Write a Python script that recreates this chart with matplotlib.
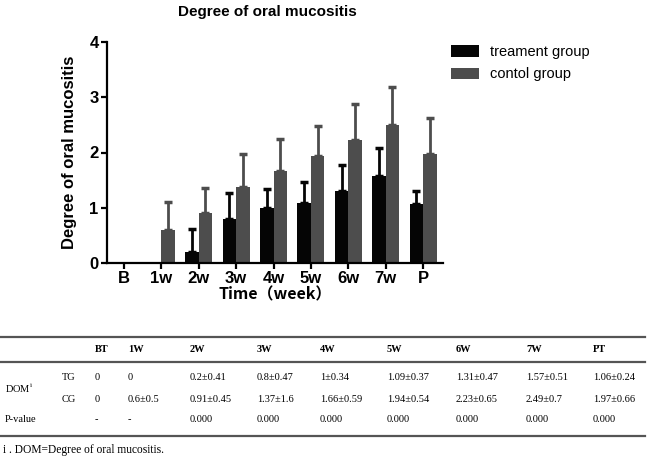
import matplotlib
matplotlib.use("Agg")
import matplotlib.pyplot as plt
import numpy as np
from matplotlib.lines import Line2D

categories = ["B", "1w", "2w", "3w", "4w", "5w", "6w", "7w", "P"]
tg_mean = [0, 0, 0.2, 0.8, 1.0, 1.09, 1.31, 1.57, 1.06]
tg_sd = [0, 0, 0.41, 0.47, 0.34, 0.37, 0.47, 0.51, 0.24]
cg_mean = [0, 0.6, 0.91, 1.37, 1.66, 1.94, 2.23, 2.49, 1.97]
cg_sd = [0, 0.5, 0.45, 0.6, 0.59, 0.54, 0.65, 0.7, 0.66]

table_header = ["BT", "1W", "2W", "3W", "4W", "5W", "6W", "7W", "PT"]
table_tg = ["0", "0", "0.2±0.41", "0.8±0.47", "1±0.34", "1.09±0.37", "1.31±0.47", "1.57±0.51", "1.06±0.24"]
table_cg = ["0", "0.6±0.5", "0.91±0.45", "1.37±1.6", "1.66±0.59", "1.94±0.54", "2.23±0.65", "2.49±0.7", "1.97±0.66"]
table_p = ["-", "-", "0.000", "0.000", "0.000", "0.000", "0.000", "0.000", "0.000"]

W, H = 651, 457
fig = plt.figure(figsize=(W / 100, H / 100), dpi=100)
sans = ["Liberation Sans", "DejaVu Sans"]
serif = ["Liberation Serif", "DejaVu Serif"]

ax = fig.add_axes([107 / W, 1 - 263 / H, (443 - 107) / W, (263 - 42) / H])
x = np.arange(len(categories))
bw = 0.36
black = "#050505"
gray = "#4d4d4d"

def bars(offset, mean, sd, color, label):
    mean = np.asarray(mean, float)
    sd = np.asarray(sd, float)
    xs = x + offset
    ax.bar(xs, mean, bw, color=color, label=label, zorder=2)
    m = sd > 0
    ax.errorbar(xs[m], mean[m], yerr=[np.zeros(m.sum()), sd[m]], fmt="none",
                ecolor=color, elinewidth=2, capsize=3, capthick=2.5, zorder=1)

bars(-bw / 2, tg_mean, tg_sd, black, "treament group")
bars(bw / 2, cg_mean, cg_sd, gray, "contol group")

ax.set_xlim(-0.45, 8.53)
ax.set_ylim(0, 4)
ax.set_yticks([0, 1, 2, 3, 4])
ax.set_xticks(x)
ax.set_xticklabels(categories)
for s in ["top", "right"]:
    ax.spines[s].set_visible(False)
for s in ["left", "bottom"]:
    ax.spines[s].set_linewidth(1.6)
ax.tick_params(width=1.6, length=4, labelsize=12, pad=2)
for lab in ax.get_xticklabels() + ax.get_yticklabels():
    lab.set_fontfamily(sans)
    lab.set_fontweight("bold")
ax.set_xlabel("Time（week）", fontsize=11.5, fontweight="bold",
              family=["Noto Sans CJK SC", "DejaVu Sans"], labelpad=0)
ax.set_ylabel("Degree of oral mucositis", fontsize=12, fontweight="bold",
              family=sans, labelpad=9)

fig.text(267 / W, 1 - 12 / H, "Degree of oral mucositis", fontsize=11,
         fontweight="bold", family=sans, ha="center", va="center")

leg = ax.legend(loc="upper left", bbox_to_anchor=(438 / W, 1 - 32 / H),
                bbox_transform=fig.transFigure, frameon=False,
                handlelength=1.9, handleheight=0.8, handletextpad=0.75,
                labelspacing=0.55, prop=dict(family=sans, size=10.5))

# Table
line_color = "#555555"
def hline(y, lw):
    fig.add_artist(Line2D([0 / W, 645 / W], [1 - y / H, 1 - y / H],
                          color=line_color, lw=lw, transform=fig.transFigure))
hline(337, 1.6)
hline(362, 1.6)
hline(436, 1.6)

col_x = [95, 128, 190, 257, 320, 387, 456, 526, 593]
fs = 7.5
def t(xp, yp, s, bold=False):
    fig.text(xp / W, 1 - yp / H, s, fontsize=fs, family=serif,
             fontweight="bold" if bold else "normal", ha="left", va="center")

for cx, h in zip(col_x, table_header):
    t(cx, 349, h, bold=True)
t(5, 388, "DOM$^{\\mathregular{i}}$")
t(62, 377, "TG")
t(62, 399, "CG")
t(5, 420, "P-value")
for cx, a, b, c in zip(col_x, table_tg, table_cg, table_p):
    t(cx, 377, a)
    t(cx, 399, b)
    t(cx, 420, c)
fig.text(3 / W, 1 - 450 / H, "i . DOM=Degree of oral mucositis.", fontsize=8.3,
         family=serif, ha="left", va="center")

fig.savefig("out.png", dpi=100)
